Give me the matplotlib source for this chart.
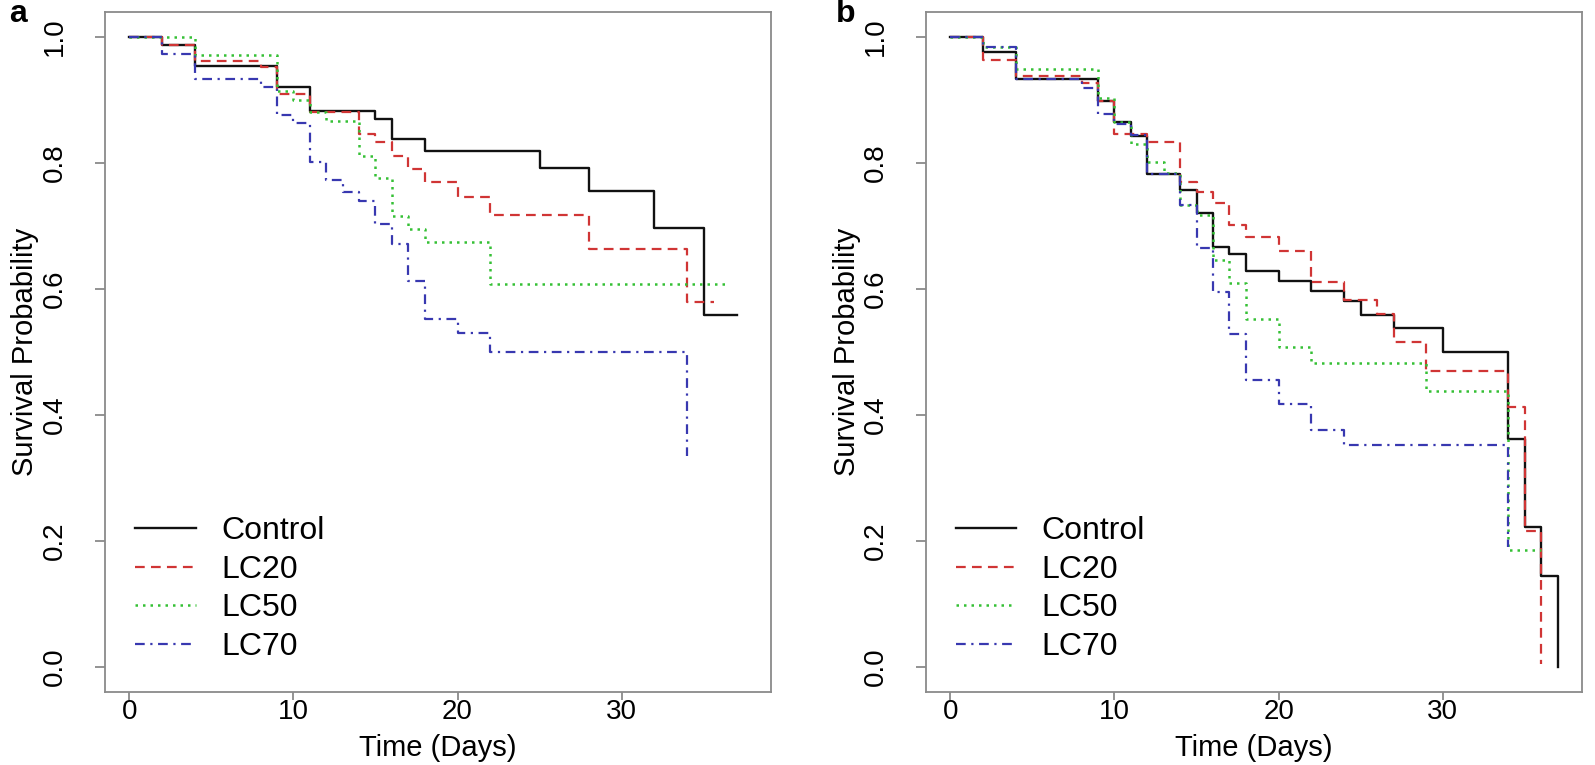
import matplotlib
matplotlib.use("Agg")
import matplotlib.pyplot as plt

plt.rcParams['font.family'] = ['Liberation Sans', 'DejaVu Sans']
plt.rcParams['lines.scale_dashes'] = False

# ---- data (Kaplan-Meier steps) ----
groups = ["Control", "LC20", "LC50", "LC70"]

# panel a
a_ctrl_t = [0, 2, 4, 9, 11, 15, 16, 18, 25, 28, 32, 35]
a_ctrl_s = [1.0, 0.988, 0.955, 0.921, 0.883, 0.870, 0.838, 0.820, 0.793, 0.755, 0.697, 0.558]
a_ctrl_end = 37

a_lc20_t = [0, 2, 4, 8, 9, 11, 14, 15, 16, 17, 18, 20, 22, 28, 34]
a_lc20_s = [1.0, 0.988, 0.962, 0.953, 0.910, 0.881, 0.847, 0.833, 0.812, 0.791, 0.770, 0.746, 0.718, 0.664, 0.580]
a_lc20_end = 35.6

a_lc50_t = [0, 4, 9, 10, 11, 12, 14, 15, 16, 17, 18, 22]
a_lc50_s = [1.0, 0.972, 0.914, 0.900, 0.881, 0.867, 0.812, 0.776, 0.716, 0.696, 0.674, 0.608]
a_lc50_end = 36.5

a_lc70_t = [0, 2, 4, 8, 9, 10, 11, 12, 13, 14, 15, 16, 17, 18, 20, 22, 34]
a_lc70_s = [1.0, 0.973, 0.933, 0.921, 0.877, 0.863, 0.801, 0.773, 0.754, 0.740, 0.704, 0.671,
            0.613, 0.552, 0.530, 0.500, 0.335]
a_lc70_end = 34

# panel b
b_ctrl_t = [0, 2, 4, 9, 10, 11, 12, 14, 15, 16, 17, 18, 20, 22, 24, 25, 27, 30, 34, 35, 36, 37]
b_ctrl_s = [1.0, 0.977, 0.934, 0.899, 0.866, 0.843, 0.783, 0.758, 0.721, 0.667, 0.656, 0.629,
            0.613, 0.597, 0.581, 0.559, 0.538, 0.500, 0.362, 0.222, 0.145, 0.0]
b_ctrl_end = 37

b_lc20_t = [0, 2, 4, 8, 9, 10, 12, 14, 15, 16, 17, 18, 20, 22, 24, 26, 27, 29, 34, 35, 36]
b_lc20_s = [1.0, 0.963, 0.939, 0.927, 0.899, 0.846, 0.833, 0.770, 0.754, 0.737, 0.701, 0.682,
            0.660, 0.611, 0.582, 0.560, 0.516, 0.470, 0.412, 0.215, 0.005]
b_lc20_end = 36

b_lc50_t = [0, 2, 4, 9, 10, 11, 12, 13, 14, 15, 16, 17, 18, 20, 22, 29, 34]
b_lc50_s = [1.0, 0.985, 0.949, 0.903, 0.866, 0.831, 0.801, 0.784, 0.734, 0.718, 0.646, 0.610,
            0.552, 0.508, 0.482, 0.438, 0.186]
b_lc50_end = 36

b_lc70_t = [0, 2, 4, 8, 9, 10, 11, 12, 14, 15, 16, 17, 18, 20, 22, 24, 34]
b_lc70_s = [1.0, 0.985, 0.934, 0.920, 0.878, 0.862, 0.845, 0.783, 0.734, 0.665, 0.596, 0.529,
            0.455, 0.418, 0.376, 0.352, 0.19]
b_lc70_end = 34

x_ticks = [0, 10, 20, 30]
y_ticks = [0.0, 0.2, 0.4, 0.6, 0.8, 1.0]

# ---- styles ----
colors = ["#111111", "#d03535", "#35c035", "#3838b0"]
styles = ["-", (0, (7, 4.5)), (0, (1.8, 3.6)), (0, (7, 4, 1.6, 4))]
widths = [1.7, 1.6, 1.8, 1.6]


def km(ax, t, s, end, i):
    x = list(t) + [end]
    y = list(s) + [s[-1]]
    ax.step(x, y, where="post", color=colors[i], linestyle=styles[i],
            linewidth=widths[i], label=groups[i])


def style_axes(ax, xmax):
    ax.set_xlim(-1.48, xmax)
    ax.set_ylim(-0.04, 1.04)
    ax.set_xticks(x_ticks)
    ax.set_yticks(y_ticks)
    ax.set_yticklabels([f"{v:.1f}" for v in y_ticks])
    for sp in ax.spines.values():
        sp.set_color("#8a8a8a")
        sp.set_linewidth(1.3)
    ax.tick_params(axis="both", colors="#8a8a8a", labelcolor="black",
                   labelsize=20, width=1.3)
    ax.tick_params(axis="x", length=6, pad=-1)
    ax.tick_params(axis="y", length=7, pad=20)
    for lab in ax.get_yticklabels():
        lab.set_rotation(90)
        lab.set_va("center")
    ax.set_xlabel("Time (Days)", fontsize=21, va="center")
    ax.xaxis.set_label_coords(0.5, -0.083)
    ax.set_ylabel("Survival Probability", fontsize=21, va="center")
    ax.yaxis.set_label_coords(-0.12, 0.5)
    ax.legend(loc="lower left", bbox_to_anchor=(0.045, 0.044), frameon=False,
              fontsize=23, handlelength=1.9, handletextpad=0.8,
              labelspacing=0.27, borderpad=0, borderaxespad=0)


fig = plt.figure(figsize=(15.95, 7.65), dpi=100)
ax_a = fig.add_axes([105 / 1595, 73 / 765, 666 / 1595, 680 / 765])
ax_b = fig.add_axes([926 / 1595, 73 / 765, 656 / 1595, 680 / 765])

km(ax_a, a_ctrl_t, a_ctrl_s, a_ctrl_end, 0)
km(ax_a, a_lc20_t, a_lc20_s, a_lc20_end, 1)
km(ax_a, a_lc50_t, a_lc50_s, a_lc50_end, 2)
km(ax_a, a_lc70_t, a_lc70_s, a_lc70_end, 3)

km(ax_b, b_ctrl_t, b_ctrl_s, b_ctrl_end, 0)
km(ax_b, b_lc20_t, b_lc20_s, b_lc20_end, 1)
km(ax_b, b_lc50_t, b_lc50_s, b_lc50_end, 2)
km(ax_b, b_lc70_t, b_lc70_s, b_lc70_end, 3)

style_axes(ax_a, 39.1)
style_axes(ax_b, 38.48)

fig.text(18 / 1595, 1 - 14 / 765, "a", fontsize=23, fontweight="bold", ha="center", va="center")
fig.text(846 / 1595, 1 - 14 / 765, "b", fontsize=23, fontweight="bold", ha="center", va="center")

fig.savefig("out.png", dpi=100)
